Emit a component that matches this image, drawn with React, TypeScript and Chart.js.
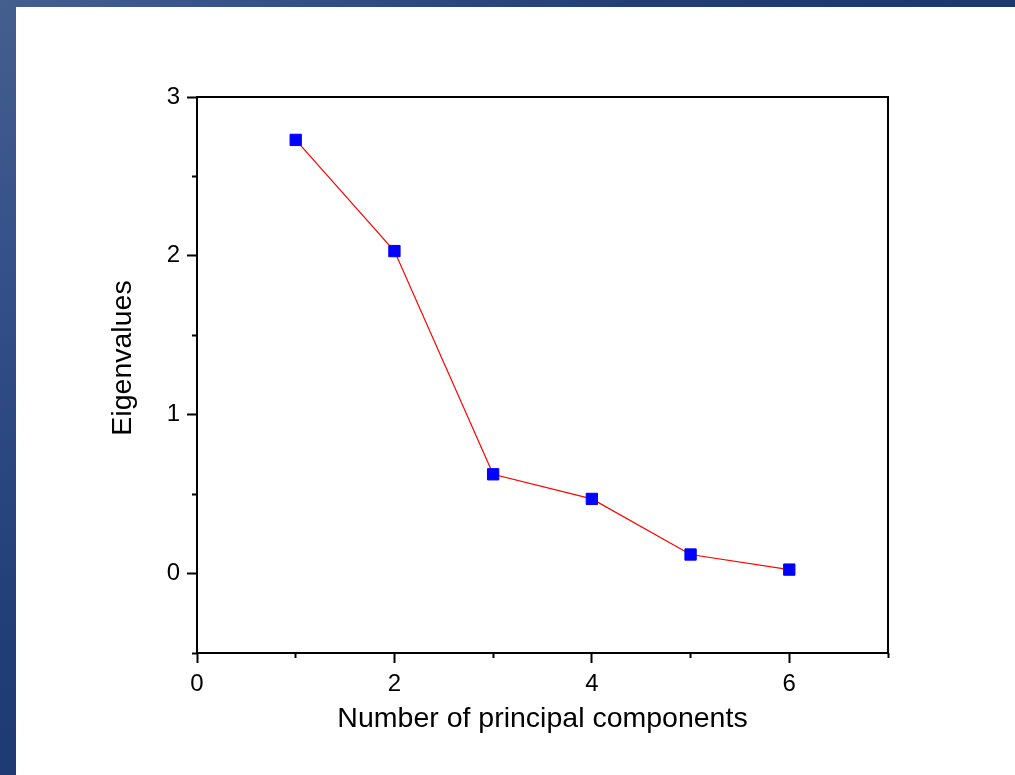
import React, { useEffect, useRef } from 'react';
import { Chart, registerables } from 'chart.js';

Chart.register(...registerables);

// ---- data ----
const components = [1, 2, 3, 4, 5, 6];
const eigenvalues = [2.73, 2.03, 0.625, 0.47, 0.12, 0.025];

// ---- axes ----
const xRange = [0, 7];
const yRange = [-0.5, 3];
const xMajorTicks = [0, 2, 4, 6];
const xMinorTicks = [1, 3, 5, 7];
const yMajorTicks = [0, 1, 2, 3];
const yMinorTicks = [-0.5, 0.5, 1.5, 2.5];
const xTitle = 'Number of principal components';
const yTitle = 'Eigenvalues';

const FONT = "'Liberation Sans', Arial, Helvetica, sans-serif";
const TICK_SIZE = 24;
const TITLE_SIZE = 28.5;

const setTicks = (vals: number[]) => (scale: any) => {
  scale.ticks = vals.map((v) => ({ value: v }));
};
const fixW = (w: number) => (scale: any) => {
  scale.width = w;
};
const fixH = (h: number) => (scale: any) => {
  scale.height = h;
};

const yTitlePlugin = {
  id: 'yTitleText',
  afterDraw(chart: any) {
    const { ctx, chartArea } = chart;
    const cy = (chartArea.top + chartArea.bottom) / 2 - 17;
    ctx.save();
    ctx.translate(chartArea.left - 66, cy);
    ctx.rotate(-Math.PI / 2);
    ctx.font = `${TITLE_SIZE}px ${FONT}`;
    ctx.fillStyle = '#000';
    ctx.textAlign = 'center';
    ctx.textBaseline = 'alphabetic';
    ctx.fillText(yTitle, 0, 0);
    ctx.restore();
  },
};

export default function App() {
  const ref = useRef<HTMLCanvasElement | null>(null);

  useEffect(() => {
    if (!ref.current) return;
    const points = components.map((c, i) => ({ x: c, y: eigenvalues[i] }));
    const majorGrid = {
      drawOnChartArea: false,
      drawTicks: true,
      tickLength: 10,
      tickWidth: 2,
      tickColor: '#000',
    };
    const minorGrid = {
      drawOnChartArea: false,
      drawTicks: true,
      tickLength: 5,
      tickWidth: 2,
      tickColor: '#000',
    };
    const frameGrid = { drawOnChartArea: false, drawTicks: false };
    const border = { display: true, color: '#000', width: 2 };

    const chart = new Chart(ref.current, {
      type: 'line',
      data: {
        datasets: [
          {
            data: points,
            xAxisID: 'x',
            yAxisID: 'y',
            borderColor: '#ff0000',
            borderWidth: 1.2,
            tension: 0,
            pointStyle: 'rect',
            pointRadius: 8,
            pointBorderWidth: 1,
            pointBackgroundColor: '#0000ff',
            pointBorderColor: '#0000ff',
          },
        ],
      },
      options: {
        responsive: false,
        animation: false,
        events: [],
        layout: { padding: { left: 0, top: 97, right: 127, bottom: 0 } },
        plugins: { legend: { display: false }, tooltip: { enabled: false } },
        scales: {
          x: {
            type: 'linear',
            position: 'bottom',
            weight: 1,
            min: xRange[0],
            max: xRange[1],
            afterBuildTicks: setTicks(xMajorTicks),
            afterFit: fixH(122),
            grid: majorGrid,
            border,
            ticks: {
              color: '#000',
              font: { family: FONT, size: TICK_SIZE },
              padding: 7,
              maxRotation: 0,
              autoSkip: false,
            },
            title: {
              display: true,
              text: xTitle,
              color: '#000',
              font: { family: FONT, size: TITLE_SIZE },
              padding: { top: 0, bottom: 39 },
            },
          },
          xMinor: {
            type: 'linear',
            position: 'bottom',
            weight: 0,
            min: xRange[0],
            max: xRange[1],
            afterBuildTicks: setTicks(xMinorTicks),
            afterFit: fixH(0),
            grid: minorGrid,
            border: { display: false },
            ticks: { display: false },
          },
          x2: {
            type: 'linear',
            position: 'top',
            min: xRange[0],
            max: xRange[1],
            afterFit: fixH(0),
            grid: frameGrid,
            border,
            ticks: { display: false },
          },
          y: {
            type: 'linear',
            position: 'left',
            weight: 1,
            min: yRange[0],
            max: yRange[1],
            afterBuildTicks: setTicks(yMajorTicks),
            afterFit: fixW(197),
            grid: majorGrid,
            border,
            ticks: {
              color: '#000',
              font: { family: FONT, size: TICK_SIZE },
              padding: 7,
              autoSkip: false,
            },
          },
          yMinor: {
            type: 'linear',
            position: 'left',
            weight: 0,
            min: yRange[0],
            max: yRange[1],
            afterBuildTicks: setTicks(yMinorTicks),
            afterFit: fixW(0),
            grid: minorGrid,
            border: { display: false },
            ticks: { display: false },
          },
          y2: {
            type: 'linear',
            position: 'right',
            min: yRange[0],
            max: yRange[1],
            afterFit: fixW(0),
            grid: frameGrid,
            border,
            ticks: { display: false },
          },
        },
      } as any,
      plugins: [yTitlePlugin],
    });
    return () => chart.destroy();
  }, []);

  return (
    <div
      style={{
        position: 'absolute',
        left: 0,
        top: 0,
        width: 1015,
        height: 775,
        overflow: 'hidden',
        background:
          'radial-gradient(circle at 0% 0%, #445e8e 0px, #36518a 260px, #213d76 650px, #1b356e 1100px)',
      }}
    >
      <div
        style={{
          position: 'absolute',
          left: 16,
          top: 7,
          right: 0,
          bottom: 0,
          background: '#ffffff',
        }}
      />
      <canvas
        ref={ref}
        width={1015}
        height={775}
        style={{ position: 'absolute', left: 0, top: 0, width: 1015, height: 775 }}
      />
    </div>
  );
}
